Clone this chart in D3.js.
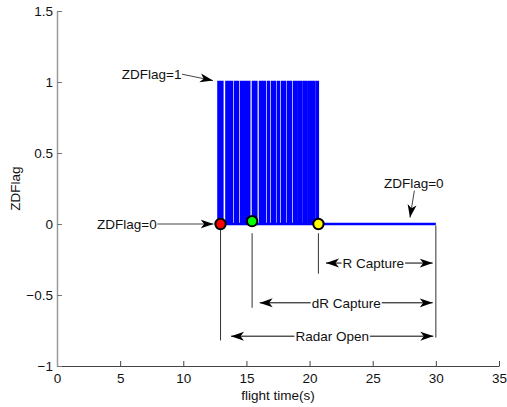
<!DOCTYPE html>
<html>
<head>
<meta charset="utf-8">
<script src="https://cdn.jsdelivr.net/npm/d3@7"></script>
<style>
  body { margin: 0; background: #fff; }
  svg text { font-family: "Liberation Sans", Arial, sans-serif; font-size: 13.5px; fill: #111; }
</style>
</head>
<body>
<div id="chart"></div>
<script>
// data
var xTicks = [0, 5, 10, 15, 20, 25, 30, 35];
var yTicks = [-1, -0.5, 0, 0.5, 1, 1.5];
// ZDFlag spikes (time of each 0 -> 1 -> 0 pulse, seconds)
var spikeTimes = [12.79, 13.03, 13.42, 13.62, 13.78, 14.10, 14.25, 14.57, 14.77, 14.97, 15.16,
                  15.52, 15.72, 16.08, 16.27, 16.39, 16.71, 17.03, 17.19, 17.50, 17.82, 17.98,
                  18.29, 18.45, 18.77, 18.89, 19.16, 19.28, 19.56, 19.68, 19.95, 20.07, 20.31, 20.59];
var flagEnd = 30;
// event markers
var eventTimes = [12.95, 15.45, 20.7];
var eventColors = ["#ff0000", "#00ff00", "#ffff00"];
// guide lines below the events
var guideX = [12.95, 15.45, 20.7, 30];
var guideTop = [-0.02, -0.065, -0.065, -0.01];
var guideBottom = [-0.82, -0.59, -0.35, -0.80];
// span arrows
var spanLabels = ["R Capture", "dR Capture", "Radar Open"];
var spanFrom = [21.3, 16.05, 13.78];
var spanTo = [29.75, 29.75, 29.8];
var spanY = [-0.275, -0.555, -0.79];

var width = 507, height = 407;
var margin = {top: 11, right: 8, bottom: 41, left: 57};

var svg = d3.select("#chart").append("svg")
    .attr("width", width)
    .attr("height", height);

var x = d3.scaleLinear().domain([0, 35]).range([margin.left, width - margin.right]);
var y = d3.scaleLinear().domain([-1, 1.5]).range([height - margin.bottom, margin.top]);

var defs = svg.append("defs");
// notched arrowhead like matlab annotations
defs.append("marker")
    .attr("id", "head")
    .attr("viewBox", "0 0 13 10")
    .attr("refX", 13).attr("refY", 5)
    .attr("markerWidth", 13).attr("markerHeight", 10)
    .attr("markerUnits", "userSpaceOnUse")
    .attr("orient", "auto-start-reverse")
    .append("path")
    .attr("d", "M0,0.5 L13,5 L0,9.5 L3.5,5 Z")
    .attr("fill", "#000");

// axes
var xAxis = svg.append("g")
    .attr("transform", "translate(0," + y(-1) + ")")
    .call(d3.axisBottom(x).tickValues(xTicks).tickSizeInner(-5).tickSizeOuter(0).tickPadding(7));
xAxis.select(".domain").attr("stroke", "#444");
xAxis.selectAll(".tick line").attr("stroke", "#444");

var yAxis = svg.append("g")
    .attr("transform", "translate(" + x(0) + ",0)")
    .call(d3.axisLeft(y).tickValues(yTicks).tickSizeInner(-5).tickSizeOuter(0).tickPadding(4)
        .tickFormat(function(d) { return d3.format("")(d).replace("-", "\u2212"); }));
yAxis.select(".domain").attr("stroke", "#9a9a9a").attr("stroke-width", 1.5);
yAxis.selectAll(".tick line").attr("stroke", "#777");
svg.selectAll(".tick text").style("font-size", "13.5px").attr("fill", "#111");

svg.append("text")
    .attr("x", x(17.5)).attr("y", 400)
    .attr("text-anchor", "middle")
    .text("flight time(s)");
svg.append("text")
    .attr("transform", "translate(20," + y(0.25) + ") rotate(-90)")
    .attr("text-anchor", "middle")
    .text("ZDFlag");

// the flag signal
var pts = [[spikeTimes[0] - 0.05, 0]];
spikeTimes.forEach(function(t) {
    pts.push([t, 0], [t, 1], [t + 0.06, 1], [t + 0.06, 0]);
});
pts.push([flagEnd, 0]);
var line = d3.line().x(function(d) { return x(d[0]); }).y(function(d) { return y(d[1]); });
svg.append("path")
    .datum(pts)
    .attr("d", line)
    .attr("fill", "none")
    .attr("stroke", "#0000ff")
    .attr("stroke-width", 2.6)
    .attr("stroke-linejoin", "miter");

// guide lines
svg.append("g").selectAll("line")
    .data(guideX)
    .join("line")
    .attr("x1", function(d) { return x(d); })
    .attr("x2", function(d) { return x(d); })
    .attr("y1", function(d, i) { return y(guideTop[i]); })
    .attr("y2", function(d, i) { return y(guideBottom[i]); })
    .attr("stroke", "#333")
    .attr("stroke-width", 1);

// event dots
svg.append("g").selectAll("circle")
    .data(eventTimes)
    .join("circle")
    .attr("cx", function(d) { return x(d); })
    .attr("cy", function(d, i) { return y(i == 1 ? 0.02 : 0); })
    .attr("r", 5.2)
    .attr("fill", function(d, i) { return eventColors[i]; })
    .attr("stroke", "#000")
    .attr("stroke-width", 2);

// span arrows with labels
spanLabels.forEach(function(lab, i) {
    var g = svg.append("g");
    g.append("line")
        .attr("x1", x(spanFrom[i])).attr("x2", x(spanTo[i]))
        .attr("y1", y(spanY[i])).attr("y2", y(spanY[i]))
        .attr("stroke", "#000").attr("stroke-width", 1)
        .attr("marker-start", "url(#head)")
        .attr("marker-end", "url(#head)");
    var bg = g.append("rect").attr("fill", "#fff");
    var t = g.append("text")
        .attr("x", (x(spanFrom[i]) + x(spanTo[i])) / 2 + (i == 0 ? -6 : 0))
        .attr("y", y(spanY[i]))
        .attr("dy", "0.35em")
        .attr("text-anchor", "middle")
        .text(lab);
    var bb = t.node().getBBox();
    bg.attr("x", bb.x - 1).attr("y", bb.y + 2).attr("width", bb.width + 2).attr("height", bb.height - 4);
});

// text arrows
function textArrow(label, tx, ty, anchor, x1, y1, x2, y2) {
    svg.append("text")
        .attr("x", x(tx)).attr("y", y(ty))
        .attr("dy", "0.35em")
        .attr("text-anchor", anchor)
        .text(label);
    svg.append("line")
        .attr("x1", x(x1)).attr("y1", y(y1))
        .attr("x2", x(x2)).attr("y2", y(y2))
        .attr("stroke", "#444").attr("stroke-width", 1)
        .attr("marker-end", "url(#head)");
}
textArrow("ZDFlag=1", 9.85, 1.055, "end", 9.9, 1.055, 12.35, 1.01);
textArrow("ZDFlag=0", 7.9, 0, "end", 7.95, 0, 12.4, 0);
textArrow("ZDFlag=0", 28.25, 0.29, "middle", 28.3, 0.235, 27.95, 0.045);
</script>
</body>
</html>
